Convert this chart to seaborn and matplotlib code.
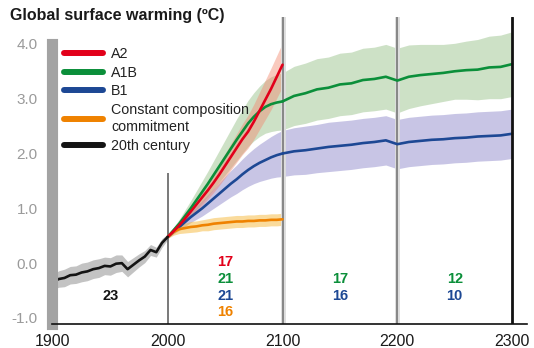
import numpy as np
import pandas as pd
import matplotlib.pyplot as plt
import seaborn as sns
from matplotlib.lines import Line2D

# ------------------ STYLE ------------------

sns.set_theme(style="white")
plt.rcParams["font.family"] = ["Liberation Sans", "DejaVu Sans"]

COLORS = {
    "A2": "#e2001a",
    "A1B": "#0b8f3a",
    "B1": "#1d4894",
    "Constant": "#ef8200",
    "20th": "#141414",
}
BANDS = {
    "A2": "#f28a70",
    "A1B": "#9cc48e",
    "B1": "#928ccd",
    "Constant": "#f6b93b",
    "20th": "#888888",
}

# ------------------ DATA ------------------

years_20c = list(range(1900, 2001, 5))
temp_20c = [-0.34, -0.29, -0.27, -0.22, -0.21, -0.17, -0.15, -0.11, -0.09, -0.05, -0.06,
            -0.01, 0.00, -0.11, -0.03, 0.05, 0.12, 0.24, 0.20, 0.37, 0.48]
spread_20c = [0.14, 0.15, 0.16, 0.16, 0.16, 0.17, 0.17, 0.17, 0.17, 0.16, 0.16,
              0.16, 0.15, 0.14, 0.13, 0.12, 0.11, 0.10, 0.09, 0.08, 0.05]

years_21c = list(range(2000, 2101, 5))
a2 = [0.48, 0.58, 0.69, 0.81, 0.94, 1.07, 1.20, 1.33, 1.47, 1.62, 1.78,
      1.94, 2.10, 2.26, 2.40, 2.58, 2.78, 2.98, 3.18, 3.40, 3.62]
a2_spread = [0.02, 0.04, 0.06, 0.08, 0.10, 0.12, 0.14, 0.16, 0.18, 0.20, 0.22,
             0.24, 0.26, 0.28, 0.30, 0.32, 0.34, 0.36, 0.38, 0.39, 0.40]
a1b = [0.48, 0.60, 0.72, 0.86, 1.00, 1.15, 1.30, 1.45, 1.61, 1.77, 1.93,
       2.09, 2.25, 2.40, 2.55, 2.67, 2.77, 2.85, 2.90, 2.93, 2.95]
a1b_spread = [0.02, 0.05, 0.08, 0.11, 0.14, 0.17, 0.20, 0.23, 0.26, 0.29, 0.32,
              0.35, 0.38, 0.40, 0.42, 0.44, 0.46, 0.48, 0.50, 0.51, 0.52]
b1 = [0.48, 0.57, 0.66, 0.75, 0.84, 0.92, 1.00, 1.09, 1.18, 1.27, 1.36,
      1.45, 1.53, 1.62, 1.70, 1.77, 1.83, 1.88, 1.93, 1.97, 2.00]
b1_spread = [0.02, 0.04, 0.06, 0.08, 0.10, 0.12, 0.14, 0.16, 0.18, 0.20, 0.22,
             0.24, 0.26, 0.28, 0.30, 0.32, 0.34, 0.36, 0.38, 0.40, 0.42]
const = [0.48, 0.57, 0.62, 0.64, 0.66, 0.67, 0.69, 0.70, 0.72, 0.73, 0.74,
         0.75, 0.76, 0.76, 0.77, 0.77, 0.78, 0.78, 0.79, 0.79, 0.80]
const_spread = [0.03, 0.06, 0.08, 0.09, 0.10, 0.10, 0.10, 0.11, 0.11, 0.11, 0.11,
                0.11, 0.11, 0.11, 0.11, 0.11, 0.11, 0.11, 0.11, 0.11, 0.11]

years_ext = list(range(2100, 2301, 10))
a1b_ext = [2.95, 3.05, 3.10, 3.17, 3.20, 3.26, 3.28, 3.34, 3.36, 3.40, 3.33,
           3.40, 3.43, 3.45, 3.47, 3.50, 3.52, 3.53, 3.57, 3.58, 3.63]
a1b_ext_spread = [0.52, 0.54, 0.55, 0.56, 0.56, 0.57, 0.57, 0.58, 0.58, 0.59, 0.59,
                  0.58, 0.56, 0.54, 0.52, 0.51, 0.53, 0.55, 0.57, 0.58, 0.59]
b1_ext = [2.00, 2.04, 2.06, 2.09, 2.12, 2.14, 2.16, 2.19, 2.21, 2.24, 2.17,
          2.21, 2.23, 2.25, 2.26, 2.28, 2.29, 2.31, 2.32, 2.33, 2.36]
b1_ext_spread = [0.42, 0.43, 0.44, 0.44, 0.45, 0.45, 0.45, 0.45, 0.45, 0.45, 0.45,
                 0.45, 0.45, 0.45, 0.45, 0.45, 0.45, 0.45, 0.45, 0.45, 0.45]

# numbers of models per period
count_x = [1950, 2050, 2050, 2050, 2050, 2150, 2150, 2250, 2250]
count_y = [-0.6, 0.02, -0.29, -0.6, -0.9, -0.29, -0.6, -0.29, -0.6]
count_txt = ["23", "17", "21", "21", "16", "17", "16", "12", "10"]
count_key = ["20th", "A2", "A1B", "B1", "Constant", "A1B", "B1", "A1B", "B1"]

# ------------------ PLOT ------------------

W, H = 534, 348
fig = plt.figure(figsize=(W / 100, H / 100), dpi=100)
ax = fig.add_axes([51.5 / W, 24 / H, (527 - 51.5) / W, (324 - 17) / H])


def band(x, y, s, key, alpha=0.5):
    y = np.array(y)
    s = np.array(s)
    ax.fill_between(x, y - s, y + s, color=BANDS[key], alpha=alpha, linewidth=0)


band(years_ext, a1b_ext, a1b_ext_spread, "A1B")
band(years_21c, a1b, a1b_spread, "A1B")
band(years_ext, b1_ext, b1_ext_spread, "B1")
band(years_21c, b1, b1_spread, "B1")
band(years_21c, a2, a2_spread, "A2", alpha=0.45)
band(years_21c, const, const_spread, "Constant")
band(years_20c, temp_20c, spread_20c, "20th")

# period dividers
ax.vlines(2000, -1.11, 1.65, color="#555555", linewidth=1.1, zorder=1)
for yr in [2100, 2200]:
    ax.axvline(yr, color="#dddddd", linewidth=3.5, zorder=1)
    ax.axvline(yr, color="#777777", linewidth=1.2, zorder=1)
ax.axvline(2300, color="#111111", linewidth=2, zorder=3)

lw = 1.9
sns.lineplot(x=years_ext, y=b1_ext, ax=ax, color=COLORS["B1"], linewidth=lw)
sns.lineplot(x=years_21c, y=b1, ax=ax, color=COLORS["B1"], linewidth=lw)
sns.lineplot(x=years_ext, y=a1b_ext, ax=ax, color=COLORS["A1B"], linewidth=lw)
sns.lineplot(x=years_21c, y=a1b, ax=ax, color=COLORS["A1B"], linewidth=lw)
sns.lineplot(x=years_21c, y=const, ax=ax, color=COLORS["Constant"], linewidth=lw)
sns.lineplot(x=years_21c, y=a2, ax=ax, color=COLORS["A2"], linewidth=lw)
sns.lineplot(x=years_20c, y=temp_20c, ax=ax, color=COLORS["20th"], linewidth=lw)

for x, y, t, k in zip(count_x, count_y, count_txt, count_key):
    ax.text(x, y, t, color=COLORS[k], ha="center", va="center",
            fontsize=10.5, fontweight="bold")

ax.set_xlim(1898.7, 2313)
ax.set_ylim(-1.11, 4.49)
ax.set_xticks([1900, 2000, 2100, 2200, 2300])
ax.set_yticks([-1, 0, 1, 2, 3, 4])
ax.set_yticklabels([f"{v:.1f}" for v in [-1, 0, 1, 2, 3, 4]])
ax.tick_params(axis="y", length=0, pad=10, labelsize=11, labelcolor="#9a9a9a")
ax.tick_params(axis="x", length=0, pad=7, labelsize=11.5, labelcolor="#1a1a1a")
ax.set_xlabel("")
ax.set_ylabel("")

for side in ["top", "right"]:
    ax.spines[side].set_visible(False)
ax.spines["left"].set_color("#a3a3a3")
ax.spines["left"].set_linewidth(8)
ax.spines["left"].set_bounds(-1.11, 4.0)
ax.spines["bottom"].set_color("#111111")
ax.spines["bottom"].set_linewidth(1.2)

handles = [Line2D([], [], color=COLORS[k], linewidth=4.3)
           for k in ["A2", "A1B", "B1", "Constant", "20th"]]
labels = ["A2", "A1B", "B1", "Constant composition\ncommitment", "20th century"]
leg = ax.legend(handles, labels, loc="upper left",
                bbox_to_anchor=(64 / W, 1 - 47 / H), bbox_transform=fig.transFigure,
                frameon=False, fontsize=10.3, handlelength=2.7, handletextpad=0.6,
                labelspacing=0.32, borderpad=0, borderaxespad=0)
for t in leg.get_texts():
    t.set_color("#222222")
    t.set_linespacing(1.3)

fig.text(10 / W, 1 - 8 / H, "Global surface warming (ºC)", fontsize=11.5,
         fontweight="bold", color="#1a1a1a", va="top", ha="left")

fig.savefig("out.png", dpi=100)
